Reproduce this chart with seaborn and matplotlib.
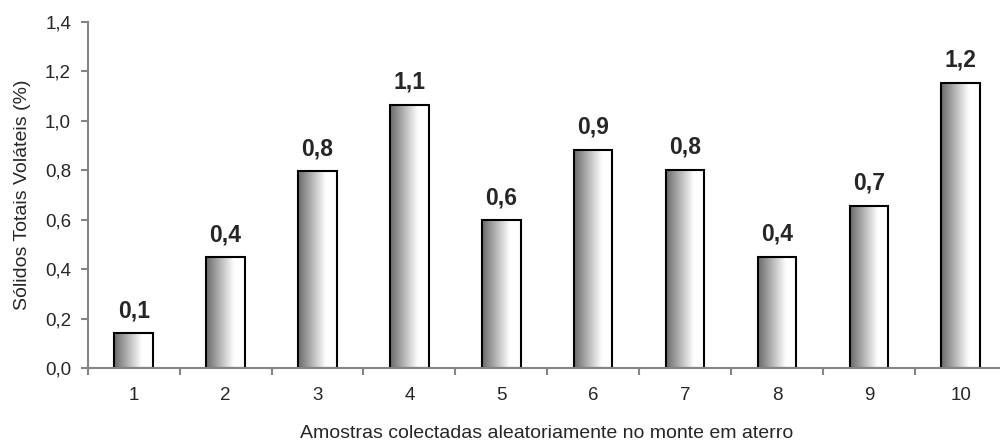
import numpy as np
import pandas as pd
import matplotlib
matplotlib.use("Agg")
import matplotlib.pyplot as plt
from matplotlib.colors import LinearSegmentedColormap
from matplotlib.ticker import FixedLocator, FuncFormatter
import seaborn as sns

# Sample numbers and volatile total solids (%)
amostras = ["1", "2", "3", "4", "5", "6", "7", "8", "9", "10"]
solidos_volateis = [0.14, 0.447, 0.795, 1.064, 0.598, 0.882, 0.802, 0.449, 0.656, 1.153]
y_ticks = [0.0, 0.2, 0.4, 0.6, 0.8, 1.0, 1.2, 1.4]

sns.set_style("white")
plt.rcParams["font.family"] = ["Liberation Sans", "DejaVu Sans"]

df = pd.DataFrame({"amostra": amostras, "svt": solidos_volateis})

fig = plt.figure(figsize=(10, 4.43), dpi=100)
ax = fig.add_axes([0.0877, 0.1693, 0.919, 0.7817])

axis_gray = "#858585"

sns.barplot(data=df, x="amostra", y="svt", order=amostras, color="white",
            width=0.42, edgecolor="black", linewidth=1.5, ax=ax)

# Horizontal grey-to-white shading inside each bar
shade = LinearSegmentedColormap.from_list(
    "shade", [(0.0, "#6a6a6a"), (0.72, "#ffffff"), (1.0, "#ffffff")])
grad = np.linspace(0, 1, 256).reshape(1, -1)
for patch in ax.patches:
    patch.set_facecolor("none")
    patch.set_zorder(3)
    x0, y0 = patch.get_x(), patch.get_y()
    w, h = patch.get_width(), patch.get_height()
    im = ax.imshow(grad, extent=[x0, x0 + w, y0, y0 + h], aspect="auto",
                   cmap=shade, zorder=2, interpolation="bilinear")
    im.set_clip_path(patch)

ax.set_xlim(-0.5, len(amostras) - 0.5)
ax.set_ylim(0, 1.4)

# Value labels above bars
for patch, v in zip(ax.patches, solidos_volateis):
    ax.annotate(f"{v:.1f}".replace(".", ","),
                (patch.get_x() + patch.get_width() / 2, patch.get_height()),
                xytext=(0, 16), textcoords="offset pixels",
                ha="center", va="baseline", fontsize=16.5, fontweight="bold")

# Axes styling
for side in ("top", "right"):
    ax.spines[side].set_visible(False)
for side in ("left", "bottom"):
    ax.spines[side].set_color(axis_gray)
    ax.spines[side].set_linewidth(1.5)
    ax.spines[side].set_zorder(4)

ax.yaxis.set_major_locator(FixedLocator(y_ticks))
ax.yaxis.set_major_formatter(FuncFormatter(lambda v, _: f"{v:.1f}".replace(".", ",")))
ax.tick_params(axis="y", which="major", direction="out", length=5, width=1.5,
               color=axis_gray, pad=7, labelsize=13.5, left=True)

ax.set_xticks(range(len(amostras)))
ax.set_xticklabels(amostras)
ax.set_xticks(np.arange(-0.5, len(amostras), 1.0), minor=True)
ax.tick_params(axis="x", which="major", length=0, pad=14, labelsize=13.5)
ax.tick_params(axis="x", which="minor", direction="out", length=5, width=1.5,
               color=axis_gray, bottom=True)

ax.set_xlabel("Amostras colectadas aleatoriamente no monte em aterro", fontsize=14)
ax.set_ylabel("Sólidos Totais Voláteis (%)", fontsize=14)
ax.xaxis.set_label_coords(0.4995, -0.165)
ax.yaxis.set_label_coords(-0.0617, 0.5)

fig.savefig("out.png", dpi=100)
